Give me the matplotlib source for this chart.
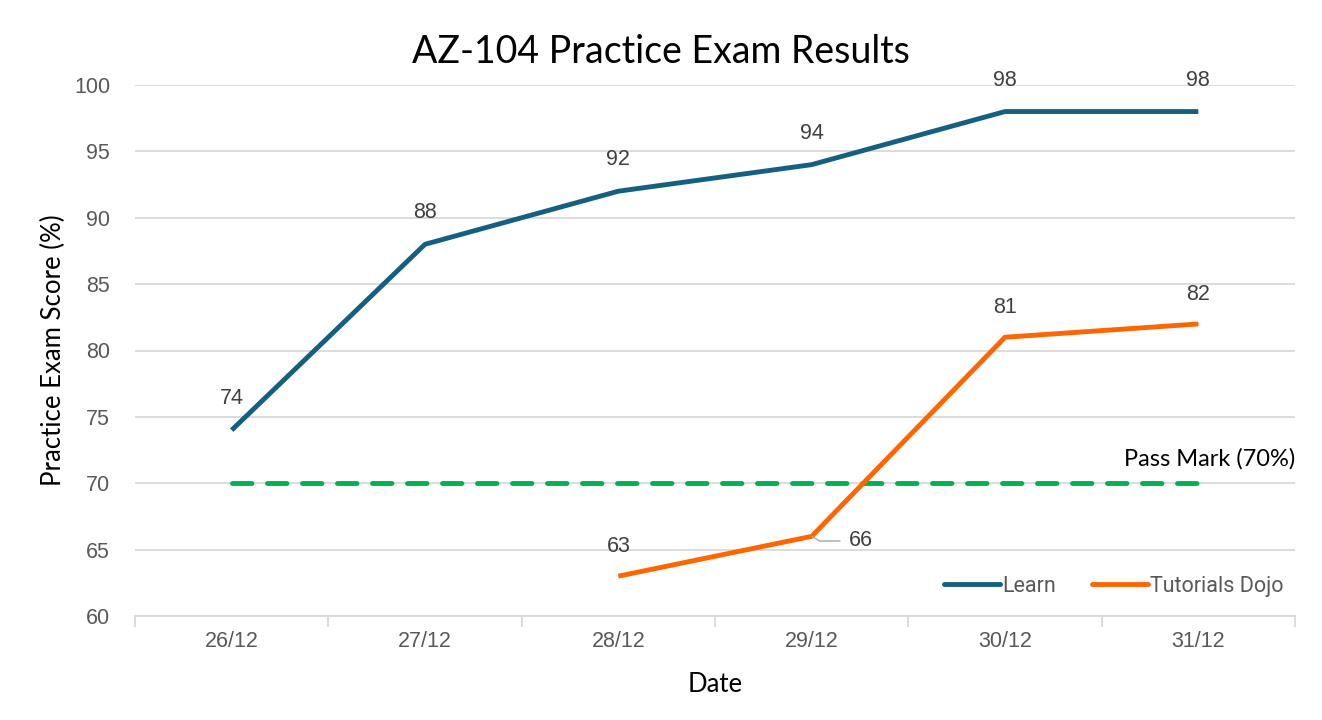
import matplotlib.pyplot as plt
import numpy as np

# data
dates = ['26/12', '27/12', '28/12', '29/12', '30/12', '31/12']
learn = [74, 88, 92, 94, 98, 98]
dojo = [np.nan, np.nan, 63, 66, 81, 82]
pass_mark = [70, 70, 70, 70, 70, 70]

blue = '#156082'
orange = '#ff6600'
green = '#00b050'
grid_col = '#d9d9d9'
text_col = '#595959'

fig = plt.figure(figsize=(13.22, 7.2), dpi=100)
ax = fig.add_axes([135 / 1322, 1 - 616 / 720, (1295 - 135) / 1322, (616 - 85) / 720])

x = np.arange(len(dates))
ax.plot(x, pass_mark, color=green, lw=3.5, ls=(0, (4, 3.2)), dash_capstyle='round', zorder=2)
ax.plot(x, learn, color=blue, lw=3.5, solid_capstyle='butt', zorder=3, label='Learn')
ax.plot(x, dojo, color=orange, lw=3.5, solid_capstyle='butt', zorder=3, label='Tutorials Dojo')

# data labels
lab_kw = dict(fontsize=15.5, color='#404040', family='Liberation Sans')
for xi, v in zip(x, learn):
    ax.annotate(str(v), (xi, v), xytext=(0, 15), textcoords='offset points',
                ha='center', va='bottom', **lab_kw)
for xi, v in zip(x, dojo):
    if np.isnan(v):
        continue
    if v == 66:
        ax.annotate(str(v), (xi, v), xytext=(xi + 0.19, v - 0.35), textcoords='data',
                    ha='left', va='center', **lab_kw,
                    arrowprops=dict(arrowstyle='-', color='#a6a6a6', lw=1,
                                    connectionstyle='angle,angleA=0,angleB=150,rad=0',
                                    shrinkA=4, shrinkB=0))
    else:
        ax.annotate(str(v), (xi, v), xytext=(0, 14), textcoords='offset points',
                    ha='center', va='bottom', **lab_kw)

ax.annotate('Pass Mark (70%)', (x[-1], 70), xytext=(x[-1] + 0.5, 71.0), textcoords='data',
            ha='right', va='bottom', fontsize=17, color='black', family='Lato')

ax.set_xlim(-0.5, len(dates) - 0.5)
ax.set_ylim(60, 100)
ax.set_yticks(np.arange(60, 101, 5))
ax.set_xticks(x)
ax.set_xticklabels(dates)
ax.set_xticks(np.arange(-0.5, len(dates), 1), minor=True)
ax.tick_params(axis='x', which='major', length=0, pad=11, labelsize=15.5, labelcolor=text_col)
ax.tick_params(axis='x', which='minor', length=8, color=grid_col, width=1.3)
ax.tick_params(axis='y', length=0, pad=18, labelsize=15.5, labelcolor=text_col)
for lab in ax.get_xticklabels() + ax.get_yticklabels():
    lab.set_family('Liberation Sans')

ax.grid(axis='y', color=grid_col, lw=1.3, zorder=0)
ax.set_axisbelow(True)
for s in ['top', 'right', 'left']:
    ax.spines[s].set_visible(False)
ax.spines['bottom'].set_color(grid_col)
ax.spines['bottom'].set_linewidth(1.3)

fig.text(0.5, 1 - 52 / 720, 'AZ-104 Practice Exam Results', fontsize=27, family='Lato',
         ha='center', va='center')
ax.set_xlabel('Date', fontsize=18.5, family='Lato', labelpad=14)
ax.set_ylabel('Practice Exam Score (%)', fontsize=18.5, family='Lato', labelpad=6)

leg = ax.legend(loc='lower right', bbox_to_anchor=(1.007, 0.0), ncol=2, frameon=False,
                handlelength=2.6, handletextpad=0.1, columnspacing=1.7,
                prop={'family': 'Roboto', 'size': 15.5})
for t in leg.get_texts():
    t.set_color(text_col)
for h in leg.get_lines():
    h.set_solid_capstyle('round')

fig.savefig('out.png', dpi=100)
